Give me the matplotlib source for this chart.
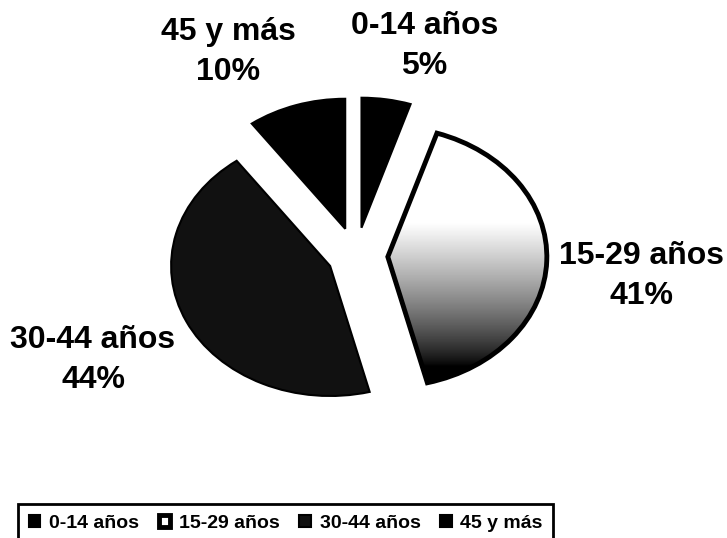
import numpy as np
import matplotlib.pyplot as plt

# age groups and their share of the total (%)
labels = ['0-14 años', '15-29 años', '30-44 años', '45 y más']
shares = [5, 41, 44, 10]

# where each outside label sits (axes fraction)
label_xy = [(0.584, 0.914), (0.882, 0.487), (0.128, 0.331), (0.314, 0.903)]

colors = ['#000000', 'none', '#111111', '#000000']
explode = [0.22, 0.2, 0.18, 0.22]

plt.rcParams['font.family'] = ['Liberation Sans', 'DejaVu Sans']

fig = plt.figure(figsize=(7.27, 5.38), dpi=100)
ax = fig.add_axes([0, 0, 1, 1])

wedges, _ = ax.pie(shares, explode=explode, startangle=90, counterclock=False,
                   colors=colors,
                   wedgeprops=dict(edgecolor='black', linewidth=1.5))
wedges[1].set_linewidth(3.5)

# white-to-black shading on the 15-29 slice
yy = np.linspace(1.3, -1.3, 400)
shade = np.clip((yy + 0.85) / (0.25 + 0.85), 0, 1) ** 0.8
img = ax.imshow(shade[:, None] * np.ones((1, 2)), cmap='gray', vmin=0, vmax=1,
                extent=[0, 1.4, -1.3, 1.3], aspect='auto', zorder=0.5,
                interpolation='bilinear')
img.set_clip_path(wedges[1])

# squashed view, like the tilted pie of the original
ax.set_xlim(-2.239, 2.333)
ax.set_ylim(-2.169, 1.969)
ax.set_aspect('auto')
ax.axis('off')

for (x, y), lab, v in zip(label_xy, labels, shares):
    ax.text(x, y, f'{lab}\n{v}%', transform=ax.transAxes, ha='center', va='center',
            fontsize=23, fontweight='bold', linespacing=1.45)

leg = fig.legend(wedges, labels, ncol=4, loc='upper left',
                 bbox_to_anchor=(18 / 727, 1 - 504 / 538), borderaxespad=0,
                 frameon=True, fancybox=False, framealpha=1, edgecolor='black',
                 prop={'weight': 'bold', 'size': 14},
                 handlelength=0.6, handleheight=0.6, handletextpad=0.45,
                 columnspacing=1.0, borderpad=0.55)
leg.get_frame().set_linewidth(2)

fig.savefig('out.png', dpi=100)
